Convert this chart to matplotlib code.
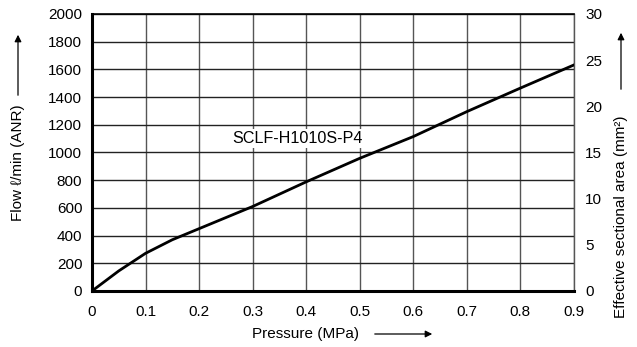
import numpy as np
import matplotlib as mpl
mpl.use('Agg')
import matplotlib.pyplot as plt

plt.rcParams['font.family'] = ['Liberation Sans', 'DejaVu Sans']

# flow curve
pressure = [0.0, 0.05, 0.1, 0.15, 0.2, 0.3, 0.4, 0.5, 0.6, 0.7, 0.8, 0.9]
flow = [0, 145, 272, 370, 450, 610, 788, 958, 1115, 1295, 1465, 1632]

x_ticks = [0, 0.1, 0.2, 0.3, 0.4, 0.5, 0.6, 0.7, 0.8, 0.9]
x_ticklabels = ['0', '0.1', '0.2', '0.3', '0.4', '0.5', '0.6', '0.7', '0.8', '0.9']
flow_ticks = list(range(0, 2001, 200))
area_ticks = [0, 5, 10, 15, 20, 25, 30]
curve_label = 'SCLF-H1010S-P4'

FS = 11

fig = plt.figure(figsize=(6.37, 3.47), dpi=100)
ax = fig.add_axes([0.1444, 0.1614, 0.901 - 0.1444, 0.9597 - 0.1614])

ax.plot(pressure, flow, color='black', lw=2.0, solid_joinstyle='round', zorder=5)
ax.set_xlim(0, 0.9)
ax.set_ylim(0, 2000)
ax.set_xticks(x_ticks)
ax.set_xticklabels(x_ticklabels)
ax.set_yticks(flow_ticks)
ax.tick_params(axis='y', length=0, labelsize=FS, pad=7)
ax.tick_params(axis='x', length=0, labelsize=FS, pad=10)
ax.xaxis.grid(True, color='#555555', lw=1.0)
ax.yaxis.grid(True, color='#222222', lw=1.0)

for side in ['left', 'bottom']:
    ax.spines[side].set_linewidth(2.2)
ax.spines['top'].set_linewidth(1.2)
ax.spines['right'].set_linewidth(1.0)
ax.spines['right'].set_color('#555555')

ax2 = ax.twinx()
ax2.set_ylim(0, 30)
ax2.set_yticks(area_ticks)
ax2.tick_params(length=0, labelsize=FS, pad=8)
for s in ax2.spines.values():
    s.set_visible(False)

ax.text(0.383, 1100, curve_label, ha='center', va='center', fontsize=11.6, zorder=6,
        bbox=dict(facecolor='white', edgecolor='none', pad=1.5))

# axis titles with arrows
fig.text(18 / 637, 1 - 163 / 347, 'Flow \u2113/min (ANR)', rotation=90,
         ha='center', va='center', fontsize=FS)
fig.add_artist(mpl.patches.FancyArrowPatch((18 / 637, 1 - 98 / 347), (18 / 637, 1 - 32 / 347),
               transform=fig.transFigure, arrowstyle='-|>', mutation_scale=10, color='black', lw=0.9))

fig.text(621 / 637, 1 - 217 / 347, 'Effective sectional area (mm\u00b2)', rotation=90,
         ha='center', va='center', fontsize=FS)
fig.add_artist(mpl.patches.FancyArrowPatch((621 / 637, 1 - 92 / 347), (621 / 637, 1 - 30 / 347),
               transform=fig.transFigure, arrowstyle='-|>', mutation_scale=10, color='black', lw=0.9))

fig.text(305 / 637, 1 - 334 / 347, 'Pressure (MPa)', ha='center', va='center', fontsize=FS)
fig.add_artist(mpl.patches.FancyArrowPatch((372 / 637, 1 - 334 / 347), (435 / 637, 1 - 334 / 347),
               transform=fig.transFigure, arrowstyle='-|>', mutation_scale=10, color='black', lw=0.9))

fig.savefig('out.png', dpi=100)
